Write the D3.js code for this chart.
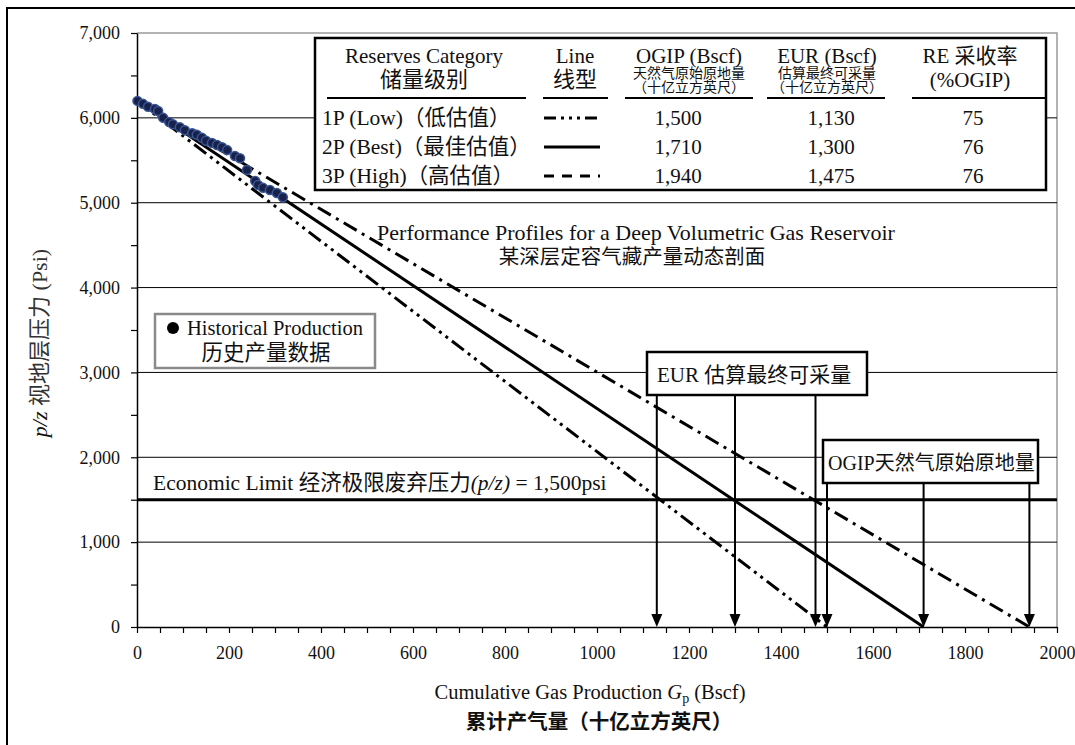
<!DOCTYPE html>
<html>
<head>
<meta charset="utf-8">
<script src="https://cdn.jsdelivr.net/npm/d3@7"></script>
<style>
  html, body { margin: 0; padding: 0; background: #fff; }
  svg { display: block; }
  text { font-family: "Liberation Serif", "Times New Roman", "Noto Sans CJK SC", serif; fill: #111; }
</style>
</head>
<body>
<svg id="chart" width="1075" height="745"></svg>
<script>
// ---- data ----
const categories = ["1P (Low)（低估值）", "2P (Best)（最佳估值）", "3P (High)（高估值）"];
const ogip = [1500, 1710, 1940];          // Bscf
const eur = [1130, 1300, 1475];           // Bscf
const recovery = [75, 76, 76];            // %OGIP
const initialPz = 6200;                   // psi
const economicLimit = 1500;               // psi
const histGp = [1, 13, 24, 39, 46, 57, 70, 78, 93, 104, 120, 130, 141, 150, 163, 174, 185, 196, 213, 224, 239, 257, 263, 274, 289, 304, 317];
const histPz = [6200, 6165, 6130, 6105, 6080, 6000, 5950, 5925, 5890, 5855, 5820, 5800, 5765, 5730, 5705, 5680, 5655, 5620, 5550, 5525, 5385, 5255, 5210, 5175, 5150, 5115, 5065];
const xTickLabels = [0, 200, 400, 600, 800, 1000, 1200, 1400, 1600, 1800, 2000];
const yTickLabels = [0, 1000, 2000, 3000, 4000, 5000, 6000, 7000];

// ---- layout ----
const svg = d3.select("#chart");
const plotL = 137, plotR = 1057, plotT = 33, plotB = 627;
const x = d3.scaleLinear().domain([0, 2000]).range([plotL, plotR]);
const y = d3.scaleLinear().domain([0, 7000]).range([plotB, plotT]);
const SERIF = "'Liberation Serif', 'Times New Roman', 'Noto Sans CJK SC', serif";

// outer frame
svg.append("rect").attr("x", 7).attr("y", 8).attr("width", 1100).attr("height", 800)
  .attr("fill", "none").attr("stroke", "#000").attr("stroke-width", 2);

// plot frame (top / right)
svg.append("path")
  .attr("d", `M${plotL},${plotT}H${plotR}V${plotB}`)
  .attr("fill", "none").attr("stroke", "#9a9a9a").attr("stroke-width", 1.5);

// horizontal gridlines
svg.append("g").selectAll("line")
  .data(yTickLabels.filter(v => v > 0 && v < 7000))
  .join("line")
  .attr("x1", plotL).attr("x2", plotR)
  .attr("y1", d => y(d)).attr("y2", d => y(d))
  .attr("stroke", "#000").attr("stroke-width", 1);

// economic limit line
svg.append("line")
  .attr("x1", plotL).attr("x2", plotR)
  .attr("y1", y(economicLimit)).attr("y2", y(economicLimit))
  .attr("stroke", "#000").attr("stroke-width", 3);

// axes
const yAxis = d3.axisLeft(y)
  .tickValues(d3.range(0, 7001, 500))
  .tickSize(6).tickSizeOuter(0).tickPadding(11)
  .tickFormat(d => yTickLabels.includes(d) ? d3.format(",")(d) : "");
const gy = svg.append("g").attr("transform", `translate(${plotL},0)`).call(yAxis);
gy.selectAll("text").style("font-size", "18px").style("font-family", SERIF);

const xAxis = d3.axisBottom(x)
  .tickValues(d3.range(0, 2001, 50))
  .tickSize(6).tickSizeOuter(0).tickPadding(13)
  .tickFormat(d => xTickLabels.includes(d) ? String(d) : "");
const gx = svg.append("g").attr("transform", `translate(0,${plotB})`).call(xAxis);
gx.selectAll("text").style("font-size", "18px").style("font-family", SERIF);
[gx, gy].forEach(g => {
  g.select(".domain").attr("stroke", "#000").attr("stroke-width", 1.5);
  g.selectAll(".tick line").attr("stroke", "#000").attr("stroke-width", 1.2);
  g.selectAll(".tick text").attr("fill", "#111");
});

// material-balance profile lines
const dashes = ["15,5,3,5,3,5", null, "15,6,3,6"];
const lineGen = d3.line().x(d => x(d[0])).y(d => y(d[1]));
svg.append("g").selectAll("path")
  .data(ogip.map((g, i) => ({ pts: [[0, initialPz], [g, 0]], dash: dashes[i] })))
  .join("path")
  .attr("d", d => lineGen(d.pts))
  .attr("fill", "none").attr("stroke", "#000").attr("stroke-width", 3)
  .attr("stroke-dasharray", d => d.dash);

// historical production points
svg.append("g").selectAll("circle")
  .data(histGp.map((g, i) => [g, histPz[i]]))
  .join("circle")
  .attr("cx", d => x(d[0])).attr("cy", d => y(d[1])).attr("r", 4.5)
  .attr("fill", "#17214a").attr("stroke", "#3a5594").attr("stroke-width", 1.5);

// economic limit label
const econ = svg.append("text").attr("x", 153).attr("y", y(economicLimit) - 10)
  .style("font-size", "21.5px");
econ.append("tspan").text("Economic Limit 经济极限废弃压力");
econ.append("tspan").attr("font-style", "italic").text("(p/z)");
econ.append("tspan").text(" = 1,500psi");

// chart caption
svg.append("text").attr("x", 636).attr("y", 240).attr("text-anchor", "middle")
  .style("font-size", "22px").text("Performance Profiles for a Deep Volumetric Gas Reservoir");
svg.append("text").attr("x", 632).attr("y", 264).attr("text-anchor", "middle")
  .style("font-size", "20.5px").attr("fill", "#222").text("某深层定容气藏产量动态剖面");

// historical production key
svg.append("rect").attr("x", 155).attr("y", 314).attr("width", 220).attr("height", 54)
  .attr("fill", "#fff").attr("stroke", "#8a8a8a").attr("stroke-width", 2.5);
svg.append("circle").attr("cx", 173).attr("cy", 328).attr("r", 6).attr("fill", "#000");
svg.append("text").attr("x", 187).attr("y", 335).style("font-size", "20.5px").text("Historical Production");
svg.append("text").attr("x", 266).attr("y", 360).attr("text-anchor", "middle")
  .style("font-size", "21.5px").attr("fill", "#222").text("历史产量数据");

// arrows from the EUR / OGIP boxes down to the axis
const eurBox = { x: 647, y: 352, w: 220, h: 43 };
const ogipBox = { x: 823, y: 440, w: 215, h: 43 };

function arrows(values, yStart) {
  svg.append("g").selectAll("line")
    .data(values)
    .join("line")
    .attr("x1", d => x(d)).attr("x2", d => x(d))
    .attr("y1", yStart).attr("y2", y(0) - 6)
    .attr("stroke", "#000").attr("stroke-width", 2);
  svg.append("g").selectAll("path")
    .data(values)
    .join("path")
    .attr("d", d => `M${x(d) - 5.5},${y(0) - 13}L${x(d) + 5.5},${y(0) - 13}L${x(d)},${y(0)}Z`)
    .attr("fill", "#000");
}
arrows(eur, eurBox.y + eurBox.h);
arrows(ogip, ogipBox.y + ogipBox.h);

svg.append("rect").attr("x", eurBox.x).attr("y", eurBox.y).attr("width", eurBox.w).attr("height", eurBox.h)
  .attr("fill", "#fff").attr("stroke", "#000").attr("stroke-width", 2.5);
svg.append("text").attr("x", eurBox.x + 10).attr("y", eurBox.y + 30).style("font-size", "21px").text("EUR 估算最终可采量");

svg.append("rect").attr("x", ogipBox.x).attr("y", ogipBox.y).attr("width", ogipBox.w).attr("height", ogipBox.h)
  .attr("fill", "#fff").attr("stroke", "#000").attr("stroke-width", 2.5);
svg.append("text").attr("x", ogipBox.x + 5).attr("y", ogipBox.y + 30).style("font-size", "20px").text("OGIP天然气原始原地量");

// reserves table
const tbl = svg.append("g");
tbl.append("rect").attr("x", 315).attr("y", 38).attr("width", 731).attr("height", 152)
  .attr("fill", "#fff").attr("stroke", "#000").attr("stroke-width", 2.5);

const cols = [
  { cx: 424, x0: 327, x1: 526, head: ["Reserves Category", "储量级别"] },
  { cx: 575, x0: 543, x1: 608, head: ["Line", "线型"] },
  { cx: 689, x0: 625, x1: 753, head: ["OGIP (Bscf)"], sub: ["天然气原始原地量", "（十亿立方英尺）"] },
  { cx: 827, x0: 767, x1: 885, head: ["EUR (Bscf)"], sub: ["估算最终可采量", "（十亿立方英尺）"] },
  { cx: 970, x0: 912, x1: 1045, head: ["RE 采收率", "(%OGIP)"] }
];
cols.forEach(c => {
  c.head.forEach((t, i) => {
    const cjk = i === 1 && /[\u4e00-\u9fff]/.test(t);
    tbl.append("text").attr("x", c.cx).attr("y", 63 + i * 24).attr("text-anchor", "middle")
      .style("font-size", cjk ? "22px" : "21px").attr("fill", cjk ? "#333" : "#111").text(t);
  });
  (c.sub || []).forEach((t, i) => {
    tbl.append("text").attr("x", c.cx).attr("y", 78 + i * 14).attr("text-anchor", "middle")
      .style("font-size", "14px").attr("fill", "#333").text(t);
  });
  tbl.append("line").attr("x1", c.x0).attr("x2", c.x1).attr("y1", 98).attr("y2", 98)
    .attr("stroke", "#000").attr("stroke-width", 2);
});

const legendDash = ["12,5,3,5,3,5,3,5", null, "10,8"];
categories.forEach((cat, i) => {
  const rowY = 118 + i * 29;
  tbl.append("text").attr("x", 322).attr("y", rowY + 7).style("font-size", "21.5px").text(cat);
  tbl.append("line").attr("x1", 544).attr("x2", 600).attr("y1", rowY).attr("y2", rowY)
    .attr("stroke", "#000").attr("stroke-width", 3).attr("stroke-dasharray", legendDash[i]);
  tbl.append("text").attr("x", 678).attr("y", rowY + 7).attr("text-anchor", "middle")
    .style("font-size", "21px").text(d3.format(",")(ogip[i]));
  tbl.append("text").attr("x", 831).attr("y", rowY + 7).attr("text-anchor", "middle")
    .style("font-size", "21px").text(d3.format(",")(eur[i]));
  tbl.append("text").attr("x", 973).attr("y", rowY + 7).attr("text-anchor", "middle")
    .style("font-size", "21px").text(recovery[i]);
});

// axis titles
const xt = svg.append("text").attr("x", 590).attr("y", 699).attr("text-anchor", "middle")
  .style("font-size", "20.5px");
xt.append("tspan").text("Cumulative Gas Production ");
xt.append("tspan").attr("font-style", "italic").text("G");
xt.append("tspan").attr("dy", 4).style("font-size", "14px").text("p");
xt.append("tspan").attr("dy", -4).text(" (Bscf)");
svg.append("text").attr("x", 599).attr("y", 729).attr("text-anchor", "middle")
  .style("font-size", "20.5px").style("font-weight", "bold")
  .style("font-family", "'Noto Sans CJK SC', sans-serif").text("累计产气量（十亿立方英尺）");

const yt = svg.append("text").attr("transform", "translate(47,343) rotate(-90)")
  .attr("text-anchor", "middle").style("font-size", "22px");
yt.append("tspan").attr("font-style", "italic").text("p/z");
yt.append("tspan").attr("fill", "#333").text("  视地层压力 (Psi)");
</script>
</body>
</html>
